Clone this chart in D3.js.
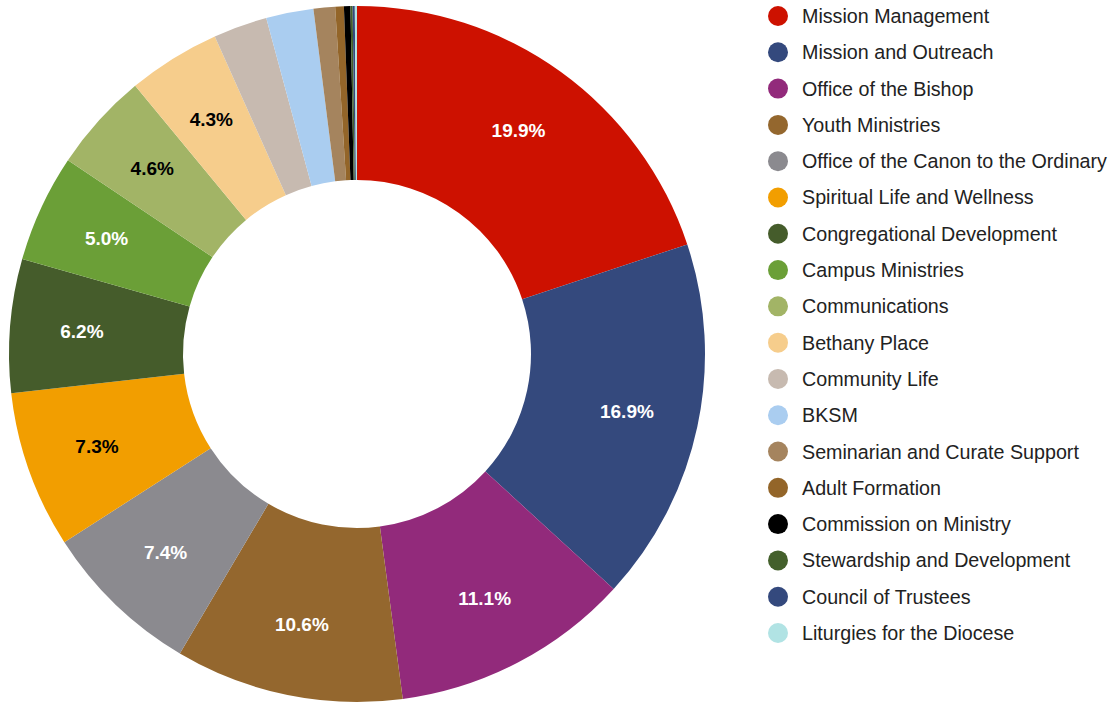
<!DOCTYPE html>
<html><head><meta charset="utf-8">
<script src="https://cdn.jsdelivr.net/npm/d3@7"></script>
<style>html,body{margin:0;padding:0;background:#fff;}svg{display:block;}</style>
</head><body>
<svg id="chart" width="1117" height="704"></svg>
<script>
const categories = ["Mission Management","Mission and Outreach","Office of the Bishop","Youth Ministries","Office of the Canon to the Ordinary","Spiritual Life and Wellness","Congregational Development","Campus Ministries","Communications","Bethany Place","Community Life","BKSM","Seminarian and Curate Support","Adult Formation","Commission on Ministry","Stewardship and Development","Council of Trustees","Liturgies for the Diocese"];
const values = [19.9,16.9,11.1,10.6,7.4,7.3,6.2,5.0,4.6,4.3,2.5,2.2,1.0,0.4,0.3,0.1,0.1,0.1];
const colors = ["#cd1100","#34497d","#922a7b","#94672e","#8b8a8f","#f29e00","#455c2b","#6b9f37","#a2b466","#f6cd8c","#c7bab0","#aacdf0","#a5845e","#936529","#000000","#44602c","#34497d","#b1e3e4"];
const labelColors = ["#fff","#fff","#fff","#fff","#fff","#000","#fff","#fff","#000","#000"];

const svg = d3.select("#chart");
const cx = 357, cy = 354, R = 348, r = 174, rLabel = 276;
const g = svg.append("g").attr("transform", `translate(${cx},${cy})`);
const pie = d3.pie().sort(null).value(d => d)(values);
const arc = d3.arc().innerRadius(r).outerRadius(R);
g.selectAll("path").data(pie).join("path")
  .attr("d", arc).attr("fill", (d,i) => colors[i]);
const labelArc = d3.arc().innerRadius(rLabel).outerRadius(rLabel);
g.selectAll("text").data(pie.filter(d => d.data >= 4)).join("text")
  .attr("transform", d => `translate(${labelArc.centroid(d)})`)
  .attr("text-anchor","middle").attr("dominant-baseline","central")
  .attr("font-family","Liberation Sans, Arial, sans-serif")
  .attr("font-weight","bold").attr("font-size",19)
  .attr("fill", d => labelColors[d.index])
  .text(d => d.data.toFixed(1) + "%");

const y = d3.scalePoint().domain(categories).range([16, 633]);
const leg = svg.append("g");
const items = leg.selectAll("g").data(categories).join("g")
  .attr("transform", d => `translate(778,${y(d)})`);
items.append("circle").attr("r",10).attr("fill",(d,i)=>colors[i]);
items.append("text").attr("x",24).attr("dominant-baseline","central")
  .attr("font-family","Liberation Sans, Arial, sans-serif").attr("font-size",19.7)
  .attr("fill","#222").text(d=>d);
</script>
</body></html>
